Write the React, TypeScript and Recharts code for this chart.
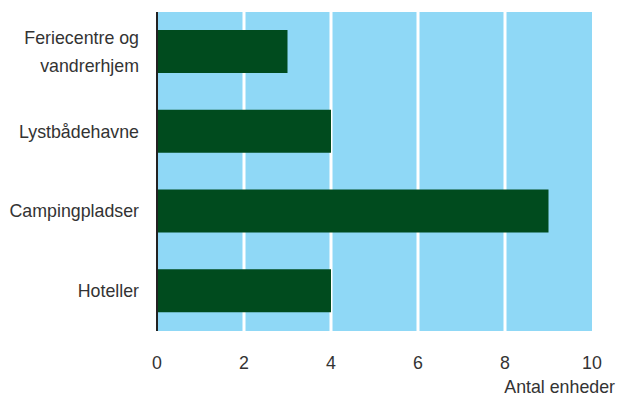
import { Bar, BarChart, CartesianGrid, Label, XAxis, YAxis } from "recharts";

const categories = ["Feriecentre og\nvandrerhjem", "Lystbådehavne", "Campingpladser", "Hoteller"];
const units = [3, 4, 9, 4];
const xTicks = [0, 2, 4, 6, 8, 10];
const gridValues = [2, 4, 6, 8];

const data = categories.map((name, i) => ({ name, value: units[i] }));

const FONT = "'Liberation Sans', Arial, sans-serif";
const TEXT = "#333333";
const SIZE = 17.8;

function CategoryTick({ x, y, payload }: any) {
  const lines = String(payload.value).split("\n");
  const lineHeight = 28;
  const start = -((lines.length - 1) * lineHeight) / 2;
  return (
    <text x={x} y={y} textAnchor="end" fill={TEXT} fontFamily={FONT} fontSize={SIZE}>
      {lines.map((line, i) => (
        <tspan key={i} x={x} dy={i === 0 ? start + 6 : lineHeight}>
          {line}
        </tspan>
      ))}
    </text>
  );
}

function gridX({ xAxis }: any) {
  const s = xAxis?.scale;
  if (!s) return [];
  if (typeof s === "function") return gridValues.map((v) => s(v));
  if (typeof s.map === "function") return gridValues.map((v) => s.map(v));
  return [];
}

export default function App() {
  return (
    <div style={{ position: "absolute", left: 0, top: 0, background: "#fff" }}>
      <BarChart
        width={619}
        height={396}
        data={data}
        layout="vertical"
        margin={{ top: 12, right: 27, bottom: 0, left: 0 }}
        barSize={43}
      >
        <CartesianGrid
          fill="#8fd8f6"
          fillOpacity={1}
          horizontal={false}
          stroke="#ffffff"
          strokeWidth={3}
          verticalCoordinatesGenerator={gridX}
        />
        <XAxis
          type="number"
          domain={[0, 10]}
          ticks={xTicks}
          axisLine={false}
          tickLine={false}
          tickMargin={19}
          height={65}
          tick={{ fill: TEXT, fontFamily: FONT, fontSize: SIZE }}
        >
          <Label
            value="Antal enheder"
            position="insideBottomRight"
            offset={0}
            dx={23}
            dy={-3}
            fill={TEXT}
            fontFamily={FONT}
            fontSize={SIZE}
          />
        </XAxis>
        <YAxis
          type="category"
          dataKey="name"
          width={157}
          axisLine={{ stroke: "#222222", strokeWidth: 2 }}
          tickLine={false}
          tickMargin={12}
          tick={<CategoryTick />}
        />
        <Bar dataKey="value" fill="#004b1e" isAnimationActive={false} />
      </BarChart>
    </div>
  );
}
